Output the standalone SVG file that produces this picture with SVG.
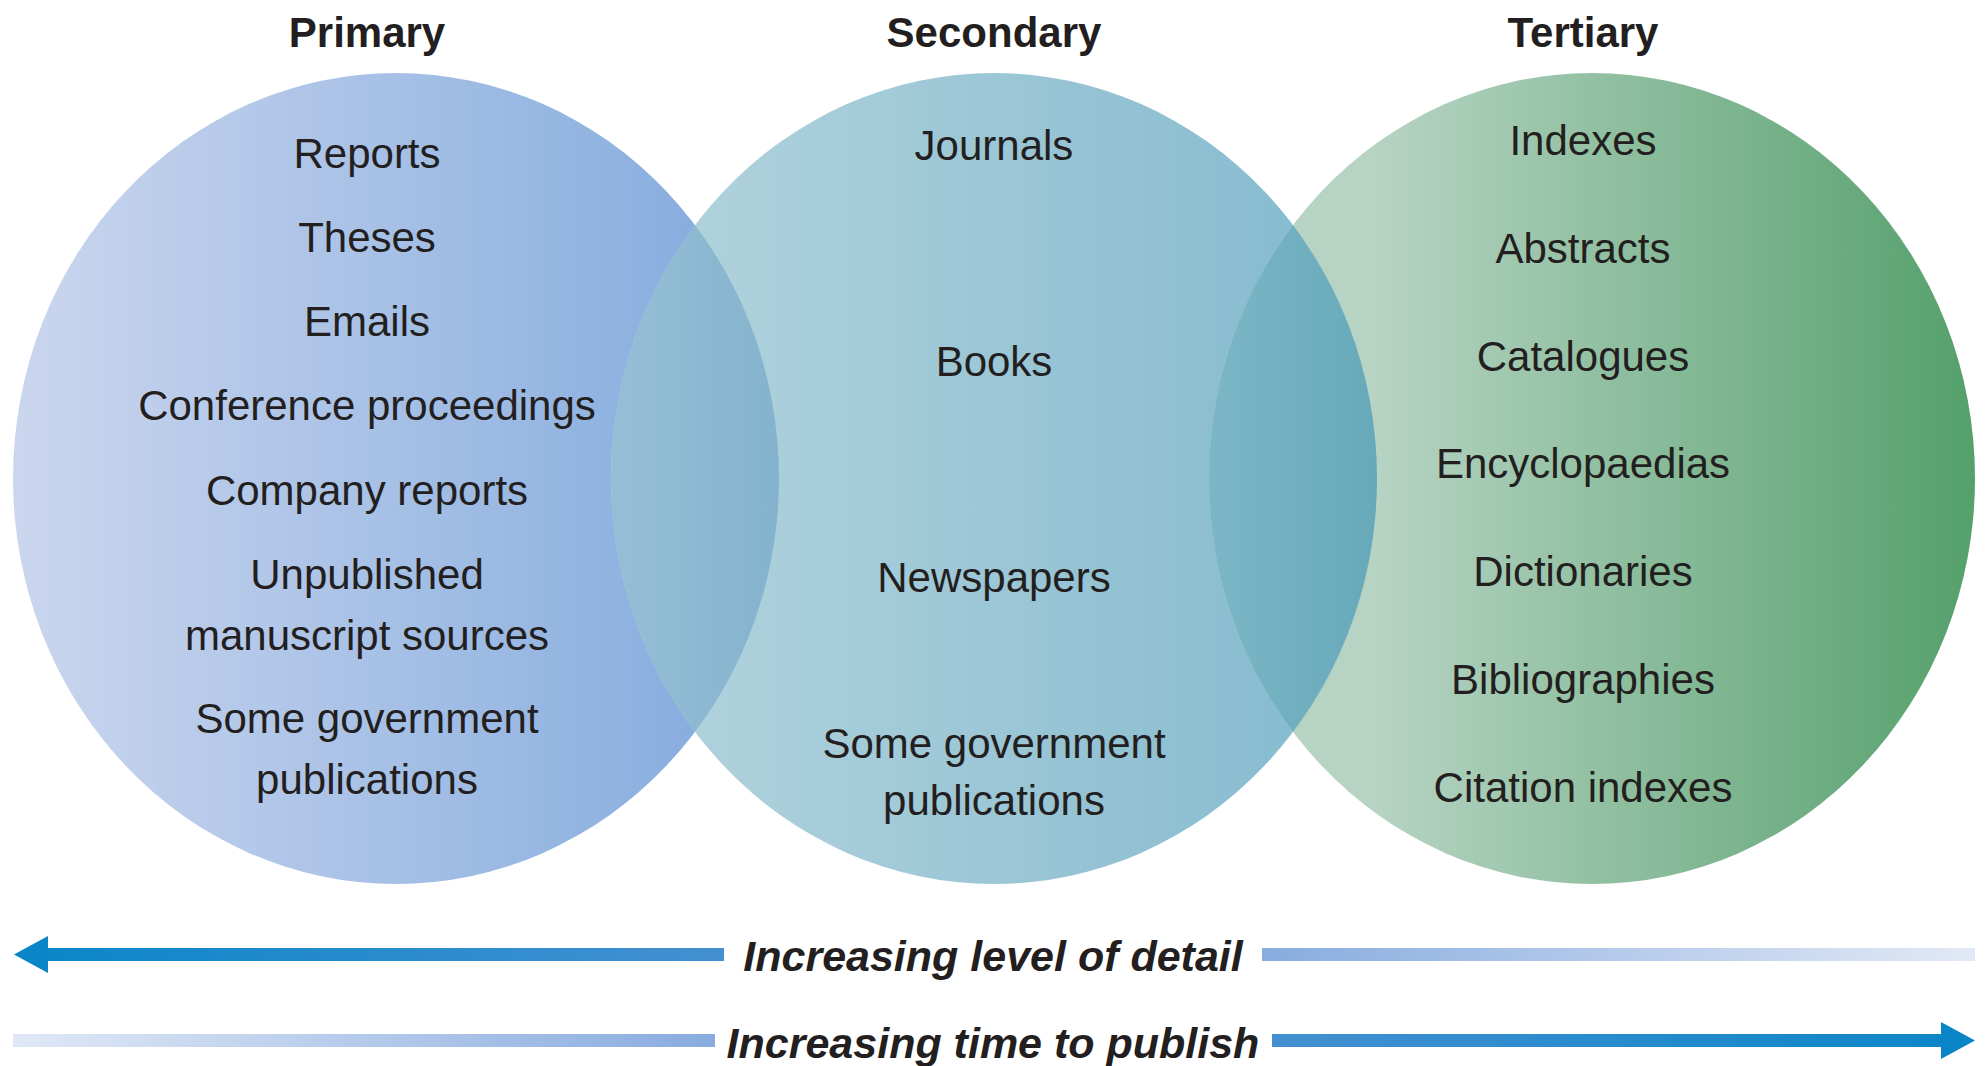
<svg xmlns="http://www.w3.org/2000/svg" width="1985" height="1066" viewBox="0 0 1985 1066">
  <style>
    text { font-family: "Liberation Sans", Arial, sans-serif; fill: #231f20; text-anchor: middle; }
    .title { font-size: 42px; font-weight: bold; }
    .item { font-size: 42px; }
    .axis { font-size: 43px; font-weight: bold; font-style: italic; }
  </style>
  <defs>
    <linearGradient id="gPrimary" gradientUnits="userSpaceOnUse" x1="13" y1="0" x2="779" y2="0">
      <stop offset="0" stop-color="#cbd6ee"/>
      <stop offset="1" stop-color="#80a9dd"/>
    </linearGradient>
    <linearGradient id="gSecondary" gradientUnits="userSpaceOnUse" x1="611" y1="0" x2="1377" y2="0">
      <stop offset="0" stop-color="#b5d4de"/>
      <stop offset="1" stop-color="#82b9ce"/>
    </linearGradient>
    <linearGradient id="gTertiary" gradientUnits="userSpaceOnUse" x1="1377" y1="0" x2="1975" y2="0">
      <stop offset="0" stop-color="#b6d3c3"/>
      <stop offset="1" stop-color="#55a06b"/>
    </linearGradient>
    <linearGradient id="gLens1" gradientUnits="userSpaceOnUse" x1="611" y1="0" x2="779" y2="0">
      <stop offset="0" stop-color="#95bfd6"/>
      <stop offset="1" stop-color="#84b3cd"/>
    </linearGradient>
    <linearGradient id="gLens2" gradientUnits="userSpaceOnUse" x1="1209" y1="0" x2="1377" y2="0">
      <stop offset="0" stop-color="#7cb6c6"/>
      <stop offset="1" stop-color="#67a9b9"/>
    </linearGradient>
    <linearGradient id="gDetailL" gradientUnits="userSpaceOnUse" x1="14" y1="0" x2="724" y2="0">
      <stop offset="0" stop-color="#0a86c8"/>
      <stop offset="1" stop-color="#4490d1"/>
    </linearGradient>
    <linearGradient id="gDetailR" gradientUnits="userSpaceOnUse" x1="1262" y1="0" x2="1975" y2="0">
      <stop offset="0" stop-color="#88acdf"/>
      <stop offset="1" stop-color="#e2e9f6"/>
    </linearGradient>
    <linearGradient id="gTimeL" gradientUnits="userSpaceOnUse" x1="13" y1="0" x2="715" y2="0">
      <stop offset="0" stop-color="#e0e8f6"/>
      <stop offset="1" stop-color="#88acdf"/>
    </linearGradient>
    <linearGradient id="gTimeR" gradientUnits="userSpaceOnUse" x1="1272" y1="0" x2="1975" y2="0">
      <stop offset="0" stop-color="#4490d1"/>
      <stop offset="1" stop-color="#0a86c8"/>
    </linearGradient>
    <clipPath id="clipPrimary">
      <ellipse cx="396" cy="478.5" rx="383" ry="405.5"/>
    </clipPath>
    <clipPath id="clipSecondary">
      <ellipse cx="994" cy="478.5" rx="383" ry="405.5"/>
    </clipPath>
  </defs>

  <g id="node-primary">
    <ellipse cx="396" cy="478.5" rx="383" ry="405.5" fill="url(#gPrimary)"/>
    <text class="title" x="367" y="47">Primary</text>
    <text class="item" x="367" y="168">Reports</text>
    <text class="item" x="367" y="252">Theses</text>
    <text class="item" x="367" y="336">Emails</text>
    <text class="item" x="367" y="420">Conference proceedings</text>
    <text class="item" x="367" y="505">Company reports</text>
    <text class="item" x="367" y="589">Unpublished</text>
    <text class="item" x="367" y="650">manuscript sources</text>
    <text class="item" x="367" y="733">Some government</text>
    <text class="item" x="367" y="794">publications</text>
  </g>

  <g id="node-secondary">
    <ellipse cx="994" cy="478.5" rx="383" ry="405.5" fill="url(#gSecondary)"/>
    <ellipse cx="994" cy="478.5" rx="383" ry="405.5" fill="url(#gLens1)" clip-path="url(#clipPrimary)"/>
    <text class="title" x="994" y="47">Secondary</text>
    <text class="item" x="994" y="160">Journals</text>
    <text class="item" x="994" y="376">Books</text>
    <text class="item" x="994" y="592">Newspapers</text>
    <text class="item" x="994" y="758">Some government</text>
    <text class="item" x="994" y="815">publications</text>
  </g>

  <g id="node-tertiary">
    <ellipse cx="1592" cy="478.5" rx="383" ry="405.5" fill="url(#gTertiary)"/>
    <ellipse cx="1592" cy="478.5" rx="383" ry="405.5" fill="url(#gLens2)" clip-path="url(#clipSecondary)"/>
    <text class="title" x="1583" y="47">Tertiary</text>
    <text class="item" x="1583" y="155">Indexes</text>
    <text class="item" x="1583" y="263">Abstracts</text>
    <text class="item" x="1583" y="371">Catalogues</text>
    <text class="item" x="1583" y="478">Encyclopaedias</text>
    <text class="item" x="1583" y="586">Dictionaries</text>
    <text class="item" x="1583" y="694">Bibliographies</text>
    <text class="item" x="1583" y="802">Citation indexes</text>
  </g>

  <g id="connectors">
    <g id="axis-detail">
      <rect x="46" y="948" width="678" height="13" fill="url(#gDetailL)"/>
      <polygon points="14,954.5 48,936 48,973" fill="#0a86c8"/>
      <rect x="1262" y="948" width="713" height="13" fill="url(#gDetailR)"/>
      <text class="axis" x="993" y="971">Increasing level of detail</text>
    </g>
    <g id="axis-time">
      <rect x="13" y="1034" width="702" height="13" fill="url(#gTimeL)"/>
      <rect x="1272" y="1034" width="671" height="13" fill="url(#gTimeR)"/>
      <polygon points="1975,1040.5 1941,1022 1941,1059" fill="#0a86c8"/>
      <text class="axis" x="993" y="1058">Increasing time to publish</text>
    </g>
  </g>
</svg>
